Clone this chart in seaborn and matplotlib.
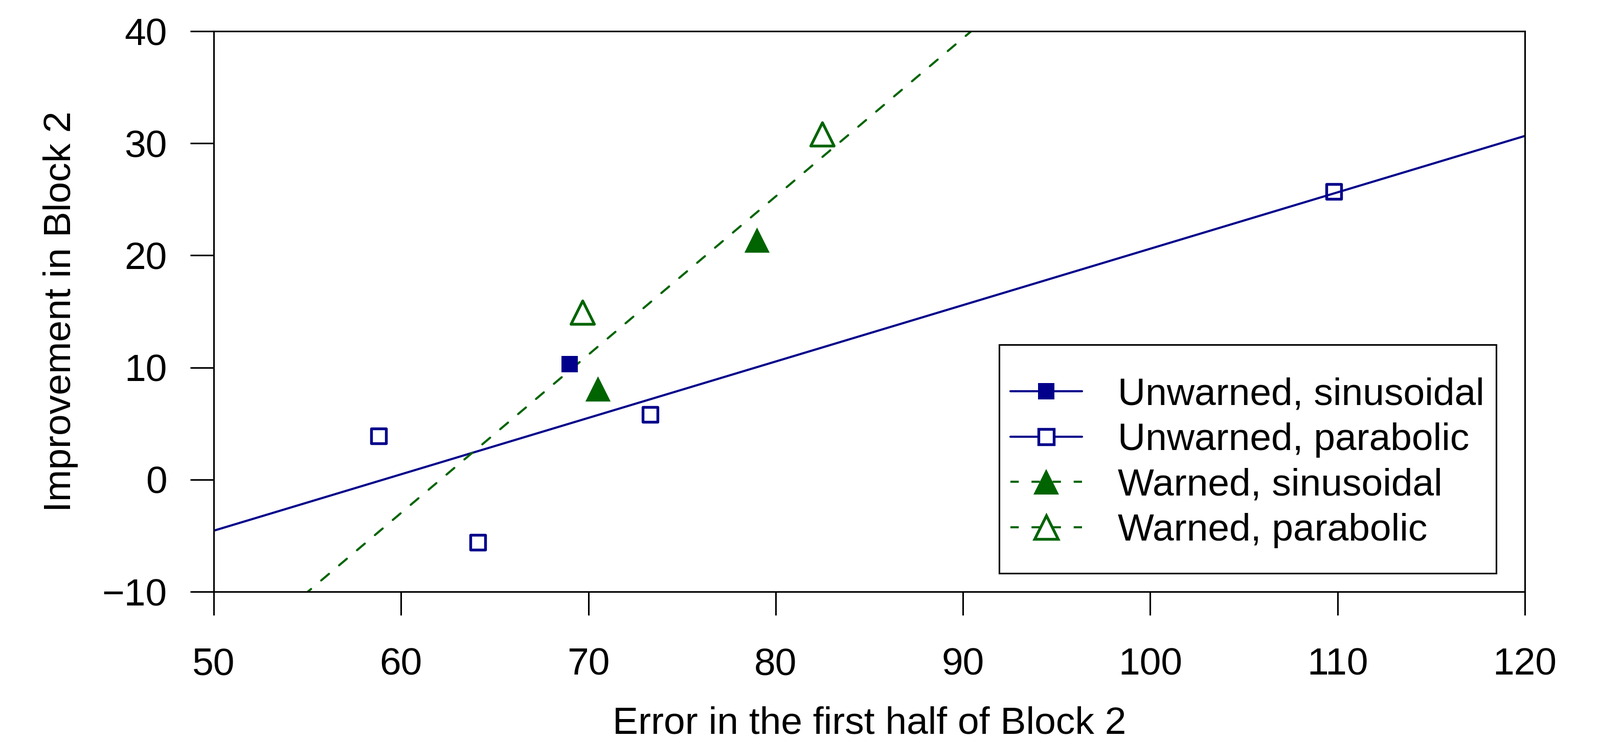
import matplotlib
matplotlib.use("Agg")
import matplotlib.pyplot as plt
from matplotlib.lines import Line2D
from matplotlib.patches import Rectangle
import seaborn as sns

# Data
unw_sin_x = [69.0]
unw_sin_y = [10.3]
unw_par_x = [58.8, 64.1, 73.3, 109.8]
unw_par_y = [3.9, -5.6, 5.8, 25.7]
war_sin_x = [70.5, 79.0]
war_sin_y = [8.1, 21.4]
war_par_x = [69.7, 82.5]
war_par_y = [14.9, 30.8]

x_ticks = [50, 60, 70, 80, 90, 100, 110, 120]
y_ticks = [-10, 0, 10, 20, 30, 40]

labels = ["Unwarned, sinusoidal", "Unwarned, parabolic",
          "Warned, sinusoidal", "Warned, parabolic"]

blue = "#00008b"
green = "#006400"

sns.set_style("ticks")
plt.rcParams['font.family'] = ['Liberation Sans', 'DejaVu Sans']
plt.rcParams['axes.unicode_minus'] = True
plt.rcParams['text.color'] = 'black'
plt.rcParams['axes.labelcolor'] = 'black'
plt.rcParams['xtick.color'] = 'black'
plt.rcParams['ytick.color'] = 'black'

fig = plt.figure(figsize=(3129 / 300, 1447 / 300), dpi=300)
ax = fig.add_axes([0.1336, 0.2004, 0.953 - 0.1336, 0.9578 - 0.2004])

ax.set_xlim(50, 120)
ax.set_ylim(-10, 40)

# Regression lines over each warning group (drawn across the full x range)
sns.regplot(x=unw_sin_x + unw_par_x, y=unw_sin_y + unw_par_y, ax=ax,
            scatter=False, ci=None, truncate=False,
            line_kws=dict(color=blue, lw=1.0))
sns.regplot(x=war_sin_x + war_par_x, y=war_sin_y + war_par_y, ax=ax,
            scatter=False, ci=None, truncate=False,
            line_kws=dict(color=green, lw=1.0, linestyle=(0, (4.8, 6.2)),
                          dash_capstyle="round"))

# Points
sns.scatterplot(x=unw_sin_x, y=unw_sin_y, ax=ax, marker="s", s=59,
                color=blue, edgecolor=blue, linewidth=0, zorder=5)
sns.scatterplot(x=unw_par_x, y=unw_par_y, ax=ax, marker="s", s=49,
                color=blue, facecolor="none", edgecolor=blue,
                linewidth=1.3, zorder=5)
sns.scatterplot(x=war_sin_x, y=war_sin_y, ax=ax, marker="^", s=140,
                color=green, edgecolor=green, linewidth=0, zorder=5)
sns.scatterplot(x=war_par_x, y=war_par_y, ax=ax, marker="^", s=120,
                color=green, facecolor="none", edgecolor=green,
                linewidth=1.3, zorder=5)

ax.set_xlim(50, 120)
ax.set_ylim(-10, 40)
ax.set_xticks(x_ticks)
ax.set_yticks(y_ticks)
ax.tick_params(axis="x", direction="out", length=11, width=0.75,
               pad=15, labelsize=18)
ax.tick_params(axis="y", direction="out", length=11, width=0.75,
               pad=11, labelsize=18)
for sp in ax.spines.values():
    sp.set_linewidth(0.75)
    sp.set_color("black")

ax.set_xlabel("Error in the first half of Block 2", fontsize=18, labelpad=11)
ax.set_ylabel("Improvement in Block 2", fontsize=18, labelpad=11)

# Legend
handles = [
    Line2D([], [], color=blue, lw=1.0, marker="s", markersize=7.7,
           markeredgewidth=0),
    Line2D([], [], color=blue, lw=1.0, marker="s", markersize=7.0,
           markerfacecolor="white", markeredgecolor=blue,
           markeredgewidth=1.3),
    Line2D([], [], color=green, lw=1.0, linestyle=(0, (3.9, 6)),
           marker="^", markersize=11.8, markeredgewidth=0),
    Line2D([], [], color=green, lw=1.0, linestyle=(0, (3.9, 6)),
           marker="^", markersize=11.0, markerfacecolor="white",
           markeredgecolor=green, markeredgewidth=1.3),
]
ax.legend(handles, labels, loc="center left", bbox_to_anchor=(0.6076, 0.2300),
          frameon=False, fontsize=18, borderpad=0, handlelength=1.87,
          handletextpad=0.93, labelspacing=0.26, borderaxespad=0)
ax.add_patch(Rectangle((0.599, 0.0328), 0.978 - 0.599, 0.4407 - 0.0328,
                       transform=ax.transAxes, fill=False,
                       edgecolor="black", lw=0.75, zorder=6))

fig.savefig("out.png", dpi=300)
